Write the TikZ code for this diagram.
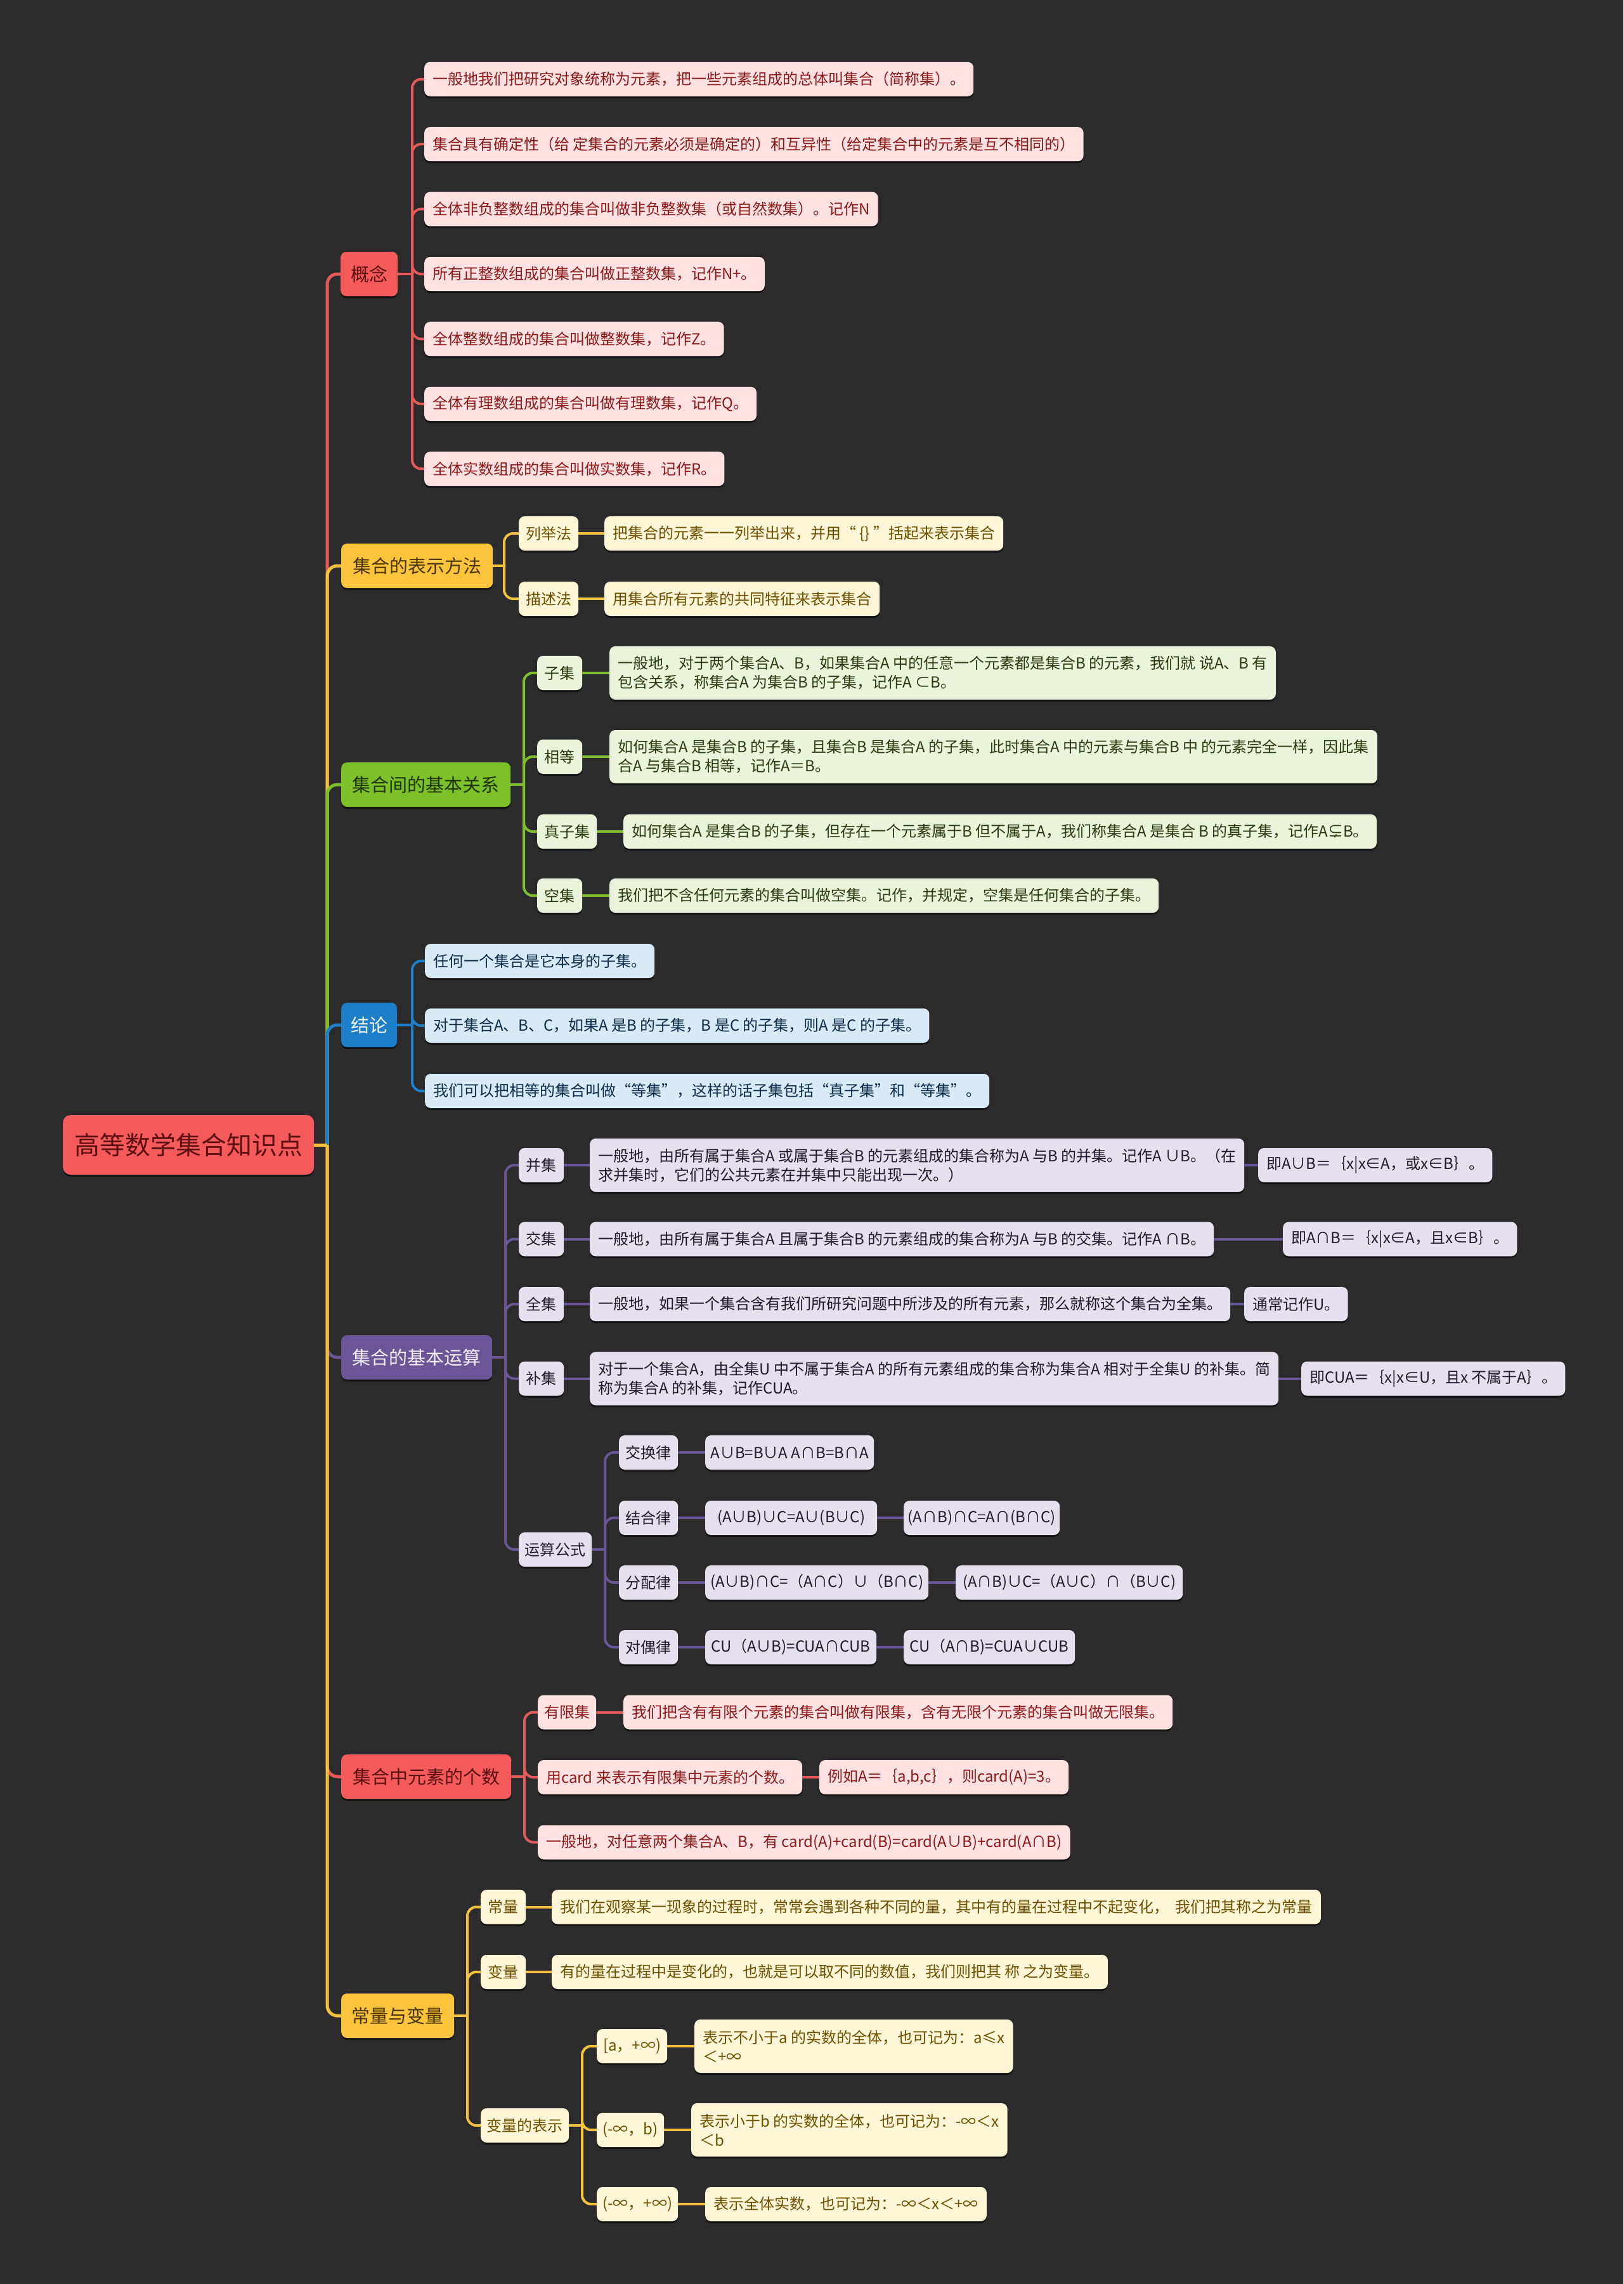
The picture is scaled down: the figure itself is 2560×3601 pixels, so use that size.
\documentclass[tikz,border=0pt]{standalone}
\usepackage{fontspec}
\setmainfont{Noto Sans CJK SC}
\usetikzlibrary{shadows}
\definecolor{bg}{HTML}{2B2B2B}
\definecolor{redM}{HTML}{F65B5B}\definecolor{redT}{HTML}{5C0F0F}
\definecolor{redL}{HTML}{E45A5A}\definecolor{pinkF}{HTML}{FFE1E1}\definecolor{pinkT}{HTML}{8B1A1A}
\definecolor{yelM}{HTML}{FCC43C}\definecolor{yelT}{HTML}{4A3500}
\definecolor{yelL}{HTML}{F4C13E}\definecolor{creF}{HTML}{FFF6D8}\definecolor{creT}{HTML}{6B5000}
\definecolor{grnM}{HTML}{7CC02A}\definecolor{grnT}{HTML}{1F3304}
\definecolor{grnL}{HTML}{7DBF2C}\definecolor{lgrF}{HTML}{EBF4DA}\definecolor{lgrT}{HTML}{2B3A10}
\definecolor{bluM}{HTML}{1E7EC8}\definecolor{bluT}{HTML}{F2F7FC}
\definecolor{bluL}{HTML}{1E7EC8}\definecolor{lbuF}{HTML}{D7EAF6}\definecolor{lbuT}{HTML}{0E2D4A}
\definecolor{purM}{HTML}{6A5597}\definecolor{purT}{HTML}{F2EEF8}
\definecolor{purL}{HTML}{6A5597}\definecolor{lavF}{HTML}{E4E0EE}\definecolor{lavT}{HTML}{1F1B2E}
\begin{document}
\begin{tikzpicture}[x=1pt,y=-1pt,
  box/.style={rounded corners=9pt, inner xsep=13pt, inner ysep=0pt, minimum height=54pt, anchor=west,
    font=\fontsize{24pt}{30pt}\selectfont, align=left,
    drop shadow={shadow xshift=0pt,shadow yshift=-3pt,opacity=.55,fill=black}},
  lbl/.style={box, inner xsep=4pt, align=center},
  tall/.style={minimum height=84pt},
  mainbox/.style={box, minimum height=70pt, inner xsep=4pt, align=center, font=\fontsize{29pt}{34pt}\selectfont},
  rootbox/.style={box, minimum height=94pt, minimum width=396pt, inner xsep=4pt, align=center, rounded corners=12pt,
    font=\fontsize{40pt}{46pt}\selectfont, fill=redM, text=redT},
  mR/.style={fill=redM,text=redT}, mY/.style={fill=yelM,text=yelT}, mG/.style={fill=grnM,text=grnT},
  mB/.style={fill=bluM,text=bluT}, mP/.style={fill=purM,text=purT},
  lR/.style={fill=pinkF,text=pinkT}, lY/.style={fill=creF,text=creT}, lG/.style={fill=lgrF,text=lgrT},
  lB/.style={fill=lbuF,text=lbuT}, lP/.style={fill=lavF,text=lavT},
  trunk/.style={line width=5pt, rounded corners=16pt},
  ln/.style={line width=4pt, rounded corners=14pt}
]
\fill[bg] (0,0) rectangle (2560,3601);
\useasboundingbox (0,0) rectangle (2560,3601);

% ---------- root and main branches ----------
\node[rootbox] (root) at (99,1805) {高等数学集合知识点};
\node[mainbox,mR,minimum width=90pt]  (m1) at (537,432)  {概念};
\node[mainbox,mY,minimum width=239pt] (m2) at (538,892)  {集合的表示方法};
\node[mainbox,mG,minimum width=267pt] (m3) at (538,1237) {集合间的基本关系};
\node[mainbox,mB,minimum width=88pt]  (m4) at (538,1616) {结论};
\node[mainbox,mP,minimum width=238pt] (m5) at (538,2140) {集合的基本运算};
\node[mainbox,mR,minimum width=268pt] (m6) at (538,2801) {集合中元素的个数};
\node[mainbox,mY,minimum width=178pt] (m7) at (538,3178) {常量与变量};

\coordinate (rj) at (516,1805);
\draw[trunk,redL] (root.east) -- (rj); \draw[trunk,redL] (rj) |- (m1.west);
\draw[trunk,yelL] (root.east) -- (rj); \draw[trunk,yelL] (rj) |- (m2.west);
\draw[trunk,grnL] (root.east) -- (rj); \draw[trunk,grnL] (rj) |- (m3.west);
\draw[trunk,bluL] (root.east) -- (rj); \draw[trunk,bluL] (rj) |- (m4.west);
\draw[trunk,purL] (root.east) -- (rj); \draw[trunk,purL] (rj) |- (m5.west);
\draw[trunk,redL] (root.east) -- (rj); \draw[trunk,redL] (rj) |- (m6.west);
\draw[trunk,yelL] (root.east) -- (rj); \draw[trunk,yelL] (rj) |- (m7.west);

% ---------- 概念 ----------
\node[box,lR] (a1) at (669,124.8) {一般地我们把研究对象统称为元素，把一些元素组成的总体叫集合（简称集）。};
\node[box,lR] (a2) at (669,227.2) {集合具有确定性（给 定集合的元素必须是确定的）和互异性（给定集合中的元素是互不相同的）};
\node[box,lR] (a3) at (669,329.6) {全体非负整数组成的集合叫做非负整数集（或自然数集）。记作N};
\node[box,lR] (a4) at (669,432) {所有正整数组成的集合叫做正整数集，记作N+。};
\node[box,lR] (a5) at (669,534.4) {全体整数组成的集合叫做整数集，记作Z。};
\node[box,lR] (a6) at (669,636.8) {全体有理数组成的集合叫做有理数集，记作Q。};
\node[box,lR] (a7) at (669,739.2) {全体实数组成的集合叫做实数集，记作R。};
\coordinate (j1) at (650,432);
\draw[ln,redL] (m1.east) -- (j1);
\foreach \n in {a1,a2,a3,a4,a5,a6,a7} \draw[ln,redL] (j1) |- (\n.west);

% ---------- 集合的表示方法 ----------
\node[lbl,lY,minimum width=94pt] (b1) at (818,841) {列举法};
\node[lbl,lY,minimum width=94pt] (b2) at (818,944) {描述法};
\node[box,lY] (b1x) at (953,841) {把集合的元素一一列举出来，并用“ \{\} ”括起来表示集合};
\node[box,lY] (b2x) at (953,944) {用集合所有元素的共同特征来表示集合};
\coordinate (j2) at (795,892);
\draw[ln,yelL] (m2.east) -- (j2);
\foreach \n in {b1,b2} \draw[ln,yelL] (j2) |- (\n.west);
\draw[ln,yelL] (b1.east) -- (b1x.west);
\draw[ln,yelL] (b2.east) -- (b2x.west);

% ---------- 集合间的基本关系 ----------
\node[lbl,lG,minimum width=71pt] (c1) at (847,1061) {子集};
\node[lbl,lG,minimum width=71pt] (c2) at (847,1193) {相等};
\node[lbl,lG,minimum width=94pt] (c3) at (847,1311) {真子集};
\node[lbl,lG,minimum width=71pt] (c4) at (847,1412) {空集};
\node[box,lG,tall] (c1x) at (961,1061) {一般地，对于两个集合A、B，如果集合A 中的任意一个元素都是集合B 的元素，我们就 说A、B 有\\包含关系，称集合A 为集合B 的子集，记作A ⊂B。};
\node[box,lG,tall] (c2x) at (961,1193) {如何集合A 是集合B 的子集，且集合B 是集合A 的子集，此时集合A 中的元素与集合B 中 的元素完全一样，因此集\\合A 与集合B 相等，记作A＝B。};
\node[box,lG] (c3x) at (983,1311) {如何集合A 是集合B 的子集，但存在一个元素属于B 但不属于A，我们称集合A 是集合 B 的真子集，记作A⊊B。};
\node[box,lG] (c4x) at (961,1412) {我们把不含任何元素的集合叫做空集。记作，并规定，空集是任何集合的子集。};
\coordinate (j3) at (826,1237);
\draw[ln,grnL] (m3.east) -- (j3);
\foreach \n in {c1,c2,c3,c4} \draw[ln,grnL] (j3) |- (\n.west);
\foreach \n in {c1,c2,c3,c4} \draw[ln,grnL] (\n.east) -- (\n x.west);

% ---------- 结论 ----------
\node[box,lB] (d1) at (670,1515) {任何一个集合是它本身的子集。};
\node[box,lB] (d2) at (670,1617) {对于集合A、B、C，如果A 是B 的子集，B 是C 的子集，则A 是C 的子集。};
\node[box,lB] (d3) at (670,1720) {我们可以把相等的集合叫做“等集”，这样的话子集包括“真子集”和“等集”。};
\coordinate (j4) at (650,1616);
\draw[ln,bluL] (m4.east) -- (j4);
\foreach \n in {d1,d2,d3} \draw[ln,bluL] (j4) |- (\n.west);

% ---------- 集合的基本运算 ----------
\node[lbl,lP,minimum width=71pt] (e1) at (818,1837) {并集};
\node[lbl,lP,minimum width=71pt] (e2) at (818,1953.5) {交集};
\node[lbl,lP,minimum width=71pt] (e3) at (818,2056) {全集};
\node[lbl,lP,minimum width=71pt] (e4) at (818,2173.5) {补集};
\node[lbl,lP,minimum width=115pt] (e5) at (818,2443) {运算公式};
\node[box,lP,tall] (e1x) at (930,1837) {一般地，由所有属于集合A 或属于集合B 的元素组成的集合称为A 与B 的并集。记作A ∪B。（在\\求并集时，它们的公共元素在并集中只能出现一次。）};
\node[box,lP] (e2x) at (930,1953.5) {一般地，由所有属于集合A 且属于集合B 的元素组成的集合称为A 与B 的交集。记作A ∩B。};
\node[box,lP] (e3x) at (930,2056) {一般地，如果一个集合含有我们所研究问题中所涉及的所有元素，那么就称这个集合为全集。};
\node[box,lP,tall] (e4x) at (930,2173.5) {对于一个集合A，由全集U 中不属于集合A 的所有元素组成的集合称为集合A 相对于全集U 的补集。简\\称为集合A 的补集，记作CUA。};
\node[box,lP] (e1y) at (1984,1837) {即A∪B＝｛x|x∈A，或x∈B｝。};
\node[box,lP] (e2y) at (2023,1953.5) {即A∩B＝｛x|x∈A，且x∈B｝。};
\node[box,lP] (e3y) at (1962,2056) {通常记作U。};
\node[box,lP] (e4y) at (2052,2173.5) {即CUA＝｛x|x∈U，且x 不属于A｝。};
\coordinate (j5) at (797,2140);
\draw[ln,purL] (m5.east) -- (j5);
\foreach \n in {e1,e2,e3,e4,e5} \draw[ln,purL] (j5) |- (\n.west);
\foreach \n in {e1,e2,e3,e4} {\draw[ln,purL] (\n.east) -- (\n x.west); \draw[ln,purL] (\n x.east) -- (\n y.west);}

\node[lbl,lP,minimum width=93pt] (f1) at (976,2290) {交换律};
\node[lbl,lP,minimum width=93pt] (f2) at (976,2393) {结合律};
\node[lbl,lP,minimum width=93pt] (f3) at (976,2495) {分配律};
\node[lbl,lP,minimum width=93pt] (f4) at (976,2597) {对偶律};
\node[lbl,lP,minimum width=266pt] (f1x) at (1112,2290) {A∪B=B∪A A∩B=B∩A};
\node[lbl,lP,minimum width=271pt] (f2x) at (1112,2393) {(A∪B)∪C=A∪(B∪C)};
\node[lbl,lP,minimum width=246pt] (f2y) at (1425,2393) {(A∩B)∩C=A∩(B∩C)};
\node[lbl,lP,minimum width=352pt] (f3x) at (1112,2495) {(A∪B)∩C=（A∩C）∪（B∩C)};
\node[lbl,lP,minimum width=358pt] (f3y) at (1507,2495) {(A∩B)∪C=（A∪C）∩（B∪C)};
\node[lbl,lP,minimum width=270pt] (f4x) at (1112,2597) {CU（A∪B)=CUA∩CUB};
\node[lbl,lP,minimum width=270pt] (f4y) at (1425,2597) {CU（A∩B)=CUA∪CUB};
\coordinate (j6) at (954,2443);
\draw[ln,purL] (e5.east) -- (j6);
\foreach \n in {f1,f2,f3,f4} {\draw[ln,purL] (j6) |- (\n.west); \draw[ln,purL] (\n.east) -- (\n x.west);}
\foreach \n in {f2,f3,f4} \draw[ln,purL] (\n x.east) -- (\n y.west);

% ---------- 集合中元素的个数 ----------
\node[lbl,lR,minimum width=92pt] (g1) at (848,2699.5) {有限集};
\node[box,lR] (g1x) at (983,2699.5) {我们把含有有限个元素的集合叫做有限集，含有无限个元素的集合叫做无限集。};
\node[box,lR] (g2) at (848,2802) {用card 来表示有限集中元素的个数。};
\node[box,lR] (g2y) at (1292,2802) {例如A＝｛a,b,c｝，则card(A)=3。};
\node[box,lR] (g3) at (848,2904.5) {一般地，对任意两个集合A、B，有 card(A)+card(B)=card(A∪B)+card(A∩B)};
\coordinate (j7) at (827,2801);
\draw[ln,redL] (m6.east) -- (j7);
\foreach \n in {g1,g2,g3} \draw[ln,redL] (j7) |- (\n.west);
\draw[ln,redL] (g1.east) -- (g1x.west);
\draw[ln,redL] (g2.east) -- (g2y.west);

% ---------- 常量与变量 ----------
\node[lbl,lY,minimum width=71pt] (h1) at (758,3006.5) {常量};
\node[lbl,lY,minimum width=71pt] (h2) at (758,3109) {变量};
\node[lbl,lY,minimum width=139pt] (h3) at (758,3351) {变量的表示};
\node[box,lY] (h1x) at (870,3006.5) {我们在观察某一现象的过程时，常常会遇到各种不同的量，其中有的量在过程中不起变化，\ \ 我们把其称之为常量};
\node[box,lY] (h2x) at (870,3109) {有的量在过程中是变化的，也就是可以取不同的数值，我们则把其 称 之为变量。};
\coordinate (j8) at (737,3178);
\draw[ln,yelL] (m7.east) -- (j8);
\foreach \n in {h1,h2,h3} \draw[ln,yelL] (j8) |- (\n.west);
\draw[ln,yelL] (h1.east) -- (h1x.west);
\draw[ln,yelL] (h2.east) -- (h2x.west);

\node[lbl,lY,minimum width=111pt] (i1) at (941,3226) {[a，+∞)};
\node[lbl,lY,minimum width=106pt] (i2) at (941,3358) {(-∞，b)};
\node[lbl,lY,minimum width=128pt] (i3) at (941,3475) {(-∞，+∞)};
\node[box,lY,tall] (i1x) at (1095,3226) {表示不小于a 的实数的全体，也可记为：a≤x\\＜+∞};
\node[box,lY,tall] (i2x) at (1090,3358) {表示小于b 的实数的全体，也可记为：-∞＜x\\＜b};
\node[box,lY] (i3x) at (1112,3475) {表示全体实数，也可记为：-∞＜x＜+∞};
\coordinate (j9) at (918,3351);
\draw[ln,yelL] (h3.east) -- (j9);
\foreach \n in {i1,i2,i3} {\draw[ln,yelL] (j9) |- (\n.west); \draw[ln,yelL] (\n.east) -- (\n x.west);}
\end{tikzpicture}
\end{document}
